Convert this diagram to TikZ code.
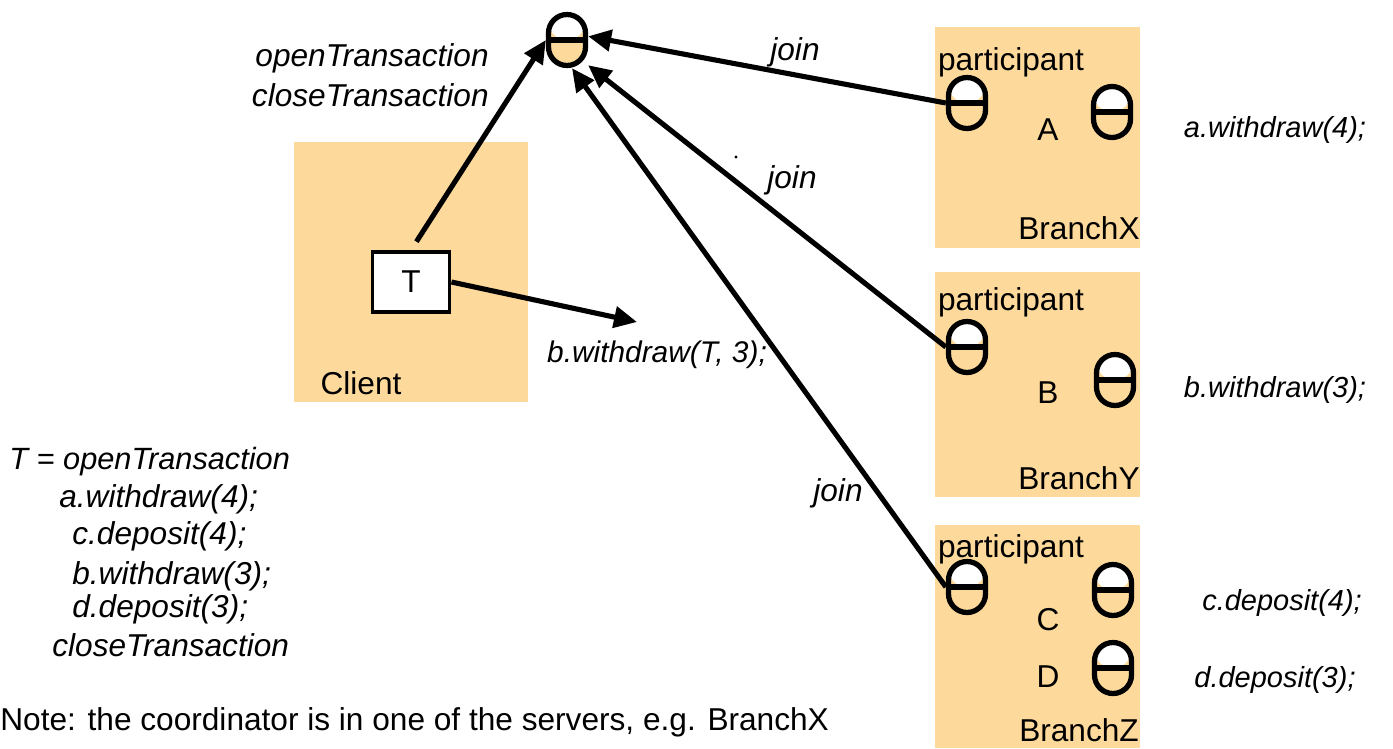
\documentclass[tikz,border=0pt]{standalone}
\usepackage{fontspec}
\setmainfont{Liberation Sans}
\usetikzlibrary{arrows.meta,positioning}
\definecolor{branchfill}{RGB}{253,218,155}

\begin{document}
\begin{tikzpicture}[
    x=0.02cm, y=-0.02cm,
    area/.style={rectangle, fill=branchfill, inner sep=0pt},
    obj/.style={rectangle, draw, line width=3pt, rounded corners=0.37cm, minimum width=0.74cm, minimum height=1.02cm, inner sep=0pt, fill=branchfill,
        path picture={\fill[white] (path picture bounding box.north west) rectangle (path picture bounding box.east);
                      \draw[line width=3pt] (path picture bounding box.west) -- (path picture bounding box.east);}},
    tbox/.style={rectangle, draw, line width=2.2pt, fill=white, minimum width=1.54cm, minimum height=1.2cm, font=\fontsize{18}{22}\selectfont},
    txt/.style={inner sep=0pt, font=\fontsize{18}{22}\selectfont},
    itx/.style={inner sep=0pt, font=\fontsize{18}{22}\selectfont\itshape},
    sitx/.style={inner sep=0pt, font=\fontsize{16.5}{20}\selectfont\itshape},
    line/.style={draw, line width=2.9pt, -{Triangle[length=0.46cm, width=0.42cm]}}
]
\useasboundingbox (0,0) rectangle (1393,748);

% ----------------------------
% Areas
% ----------------------------
\node[area, minimum width=4.68cm, minimum height=5.2cm] (client) at (411,272) {};
\node[area, minimum width=4.1cm, minimum height=4.42cm] (bx) at (1037.5,137.5) {};
\node[area, minimum width=4.1cm, minimum height=4.5cm] (by) at (1037.5,384.5) {};
\node[area, minimum width=4.1cm, minimum height=4.46cm] (bz) at (1037.5,636.5) {};

% ----------------------------
% Objects
% ----------------------------
\node[obj] (coord) at (567,40) {};
\node[tbox] (trans) at (411,282) {T};

\node[obj] (px) at (967,103) {};
\node[obj] (objA) at (1112,112) {};
\node[obj] (py) at (967,347) {};
\node[obj] (objB) at (1115,380) {};
\node[obj] (pz) at (967,587) {};
\node[obj] (objC) at (1113,590) {};
\node[obj] (objD) at (1113,668) {};

% ----------------------------
% Texts
% ----------------------------
\node[itx, align=right, anchor=east, font=\fontsize{18}{23}\selectfont\itshape] (ocT) at (489,75) {openTransaction\\closeTransaction};
\node[txt] (clientlbl) at (361,383) {Client};
\node[itx, font=\fontsize{17}{20}\selectfont\itshape] (bwT) at (657,355) {b.withdraw(T, 3);};

\node[txt] (partx) at (1011,62) {participant};
\node[txt] (lblA) at (1048,130) {A};
\node[txt] (namex) at (1079,228) {BranchX};
\node[txt] (party) at (1011,302) {participant};
\node[txt] (lblB) at (1048,393) {B};
\node[txt] (namey) at (1079,478) {BranchY};
\node[txt] (partz) at (1011,549) {participant};
\node[txt] (lblC) at (1048,620) {C};
\node[txt] (lblD) at (1048,677) {D};
\node[txt] (namez) at (1079,730) {BranchZ};

\node[sitx] (opA) at (1275,130) {a.withdraw(4);};
\node[sitx] (opB) at (1275,390) {b.withdraw(3);};
\node[sitx] (opC) at (1282,603) {c.deposit(4);};
\node[sitx] (opD) at (1275,680) {d.deposit(3);};

\node[itx] (joinx) at (795,52) {join};
\node[itx] (joiny) at (792,180) {join};
\node[itx] (joinz) at (838,493) {join};

% client program
\node[itx, anchor=west, font=\fontsize{17.5}{20}\selectfont\itshape] (prog0) at (9,462) {T = openTransaction};
\node[itx, anchor=west] (prog1) at (59,499) {a.withdraw(4);};
\node[itx, anchor=west] (prog2) at (72,536) {c.deposit(4);};
\node[itx, anchor=west] (prog3) at (72,576) {b.withdraw(3);};
\node[itx, anchor=west] (prog4) at (72,609) {d.deposit(3);};
\node[itx, anchor=west] (prog5) at (52,645) {closeTransaction};

\node[txt, anchor=west, font=\fontsize{18}{20}\selectfont] (note) at (0,722) {Note: the coordinator is in one of the servers, e.g. BranchX};

\fill (736,157) circle (1.6);

% ----------------------------
% Edges
% ----------------------------
\coordinate (bwend) at (637,322);
\path[line, shorten <=0.2cm] (trans.north) -- (coord.west);
\path[line] (trans.east) -- (bwend);
\path[line] (px.west) -- (coord.10);
\path[line] (py.west) -- (coord.-50);
\path[line] (pz.west) -- (coord.-80);

\end{tikzpicture}
\end{document}
